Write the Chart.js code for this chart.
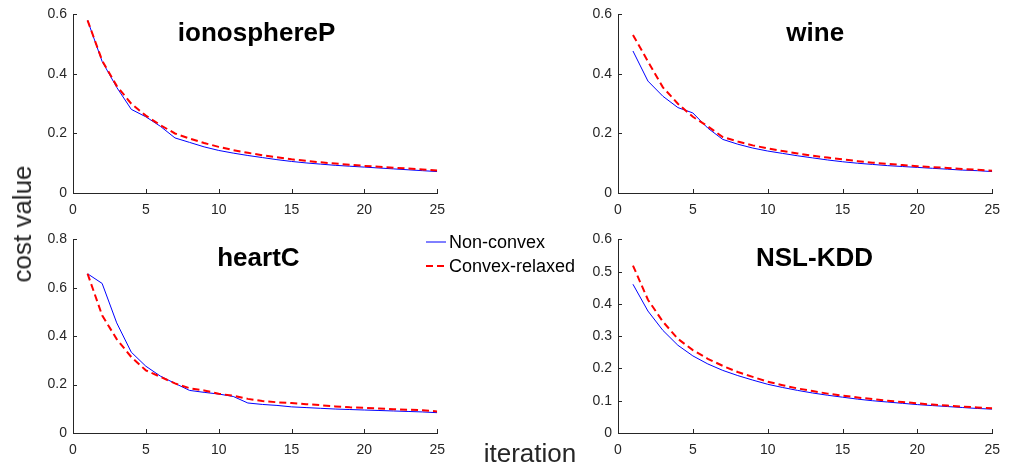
<!DOCTYPE html>
<html>
<head>
<meta charset="utf-8">
<script src="https://cdn.jsdelivr.net/npm/chart.js@4.4.1/dist/chart.umd.min.js"></script>
<style>
  body { margin: 0; background: #fff; width: 1010px; height: 468px; position: relative; overflow: hidden; font-family: "Liberation Sans", Arial, sans-serif; }
  .panel { position: absolute; }
  .etiqueta { position: absolute; font-size: 26px; color: #262626; white-space: nowrap; line-height: 1; }
  #leyenda { position: absolute; left: 426px; top: 230px; font-size: 18px; color: #000; }
  .fila { height: 24px; display: flex; align-items: center; }
  .fila svg { margin-right: 3px; }
</style>
</head>
<body>
<div class="panel" style="left:23px;top:0;width:431px;height:223px"><canvas id="panelIono"></canvas></div>
<div class="panel" style="left:568px;top:0;width:441px;height:223px"><canvas id="panelWine"></canvas></div>
<div class="panel" style="left:23px;top:225px;width:431px;height:238px"><canvas id="panelHeart"></canvas></div>
<div class="panel" style="left:568px;top:225px;width:441px;height:238px"><canvas id="panelNsl"></canvas></div>

<div class="etiqueta" style="left:22px;top:224px;transform:translate(-50%,-50%) rotate(-90deg)">cost value</div>
<div class="etiqueta" style="left:530px;top:440px;transform:translateX(-50%)">iteration</div>

<div id="leyenda">
  <div class="fila"><svg width="20" height="4"><line x1="0" y1="2" x2="20" y2="2" stroke="#0000ff" stroke-width="1"/></svg>Non-convex</div>
  <div class="fila"><svg width="20" height="4"><line x1="0" y1="2" x2="20" y2="2" stroke="#ff0000" stroke-width="2" stroke-dasharray="7,4"/></svg>Convex-relaxed</div>
</div>

<script>
const iteraciones = [1, 2, 3, 4, 5, 6, 7, 8, 9, 10, 11, 12, 13, 14, 15, 16, 17, 18, 19, 20, 21, 22, 23, 24, 25];

// ionosphereP
const ionoNoConvexo = [0.580, 0.442, 0.355, 0.281, 0.256, 0.224, 0.185, 0.170, 0.155, 0.143, 0.134, 0.126, 0.119, 0.112, 0.106, 0.101, 0.097, 0.093, 0.090, 0.087, 0.084, 0.081, 0.078, 0.075, 0.072];
const ionoConvexo   = [0.580, 0.445, 0.360, 0.300, 0.260, 0.228, 0.200, 0.183, 0.168, 0.155, 0.144, 0.135, 0.127, 0.120, 0.113, 0.108, 0.103, 0.099, 0.095, 0.091, 0.088, 0.085, 0.082, 0.079, 0.076];

// wine
const wineNoConvexo = [0.477, 0.376, 0.325, 0.287, 0.269, 0.218, 0.180, 0.164, 0.151, 0.141, 0.133, 0.125, 0.118, 0.111, 0.105, 0.100, 0.096, 0.092, 0.089, 0.086, 0.083, 0.080, 0.077, 0.075, 0.072];
const wineConvexo   = [0.531, 0.442, 0.355, 0.300, 0.256, 0.224, 0.188, 0.173, 0.160, 0.150, 0.141, 0.133, 0.125, 0.119, 0.113, 0.107, 0.102, 0.098, 0.094, 0.090, 0.087, 0.084, 0.081, 0.078, 0.075];

// heartC
const heartNoConvexo = [0.658, 0.618, 0.455, 0.334, 0.276, 0.235, 0.205, 0.176, 0.168, 0.161, 0.151, 0.124, 0.118, 0.114, 0.108, 0.105, 0.102, 0.099, 0.097, 0.095, 0.093, 0.091, 0.089, 0.087, 0.084];
const heartConvexo   = [0.658, 0.486, 0.388, 0.314, 0.259, 0.232, 0.205, 0.185, 0.176, 0.162, 0.154, 0.141, 0.132, 0.127, 0.124, 0.119, 0.115, 0.110, 0.106, 0.104, 0.101, 0.098, 0.096, 0.094, 0.089];

// NSL-KDD
const nslNoConvexo = [0.461, 0.378, 0.318, 0.272, 0.239, 0.214, 0.194, 0.178, 0.164, 0.151, 0.141, 0.132, 0.124, 0.117, 0.111, 0.105, 0.100, 0.096, 0.092, 0.088, 0.085, 0.082, 0.079, 0.076, 0.074];
const nslConvexo   = [0.519, 0.413, 0.345, 0.292, 0.257, 0.230, 0.208, 0.189, 0.174, 0.159, 0.148, 0.138, 0.130, 0.122, 0.116, 0.110, 0.105, 0.100, 0.096, 0.092, 0.088, 0.085, 0.082, 0.079, 0.077];

const COLOR_EJE = '#262626';
const FUENTE = '"Liberation Sans", Arial, sans-serif';

// Titulo dentro del area y marcas de eje hacia adentro (estilo MATLAB)
const pluginTitulo = {
  id: 'tituloInterno',
  afterDraw(chart, args, opts) {
    const { ctx, chartArea } = chart;
    const xs = chart.scales.x;
    const ys = chart.scales.y;
    ctx.save();
    ctx.strokeStyle = COLOR_EJE;
    ctx.lineWidth = 1;
    ctx.beginPath();
    xs.ticks.forEach(t => {
      const px = Math.round(xs.getPixelForValue(t.value)) + 0.5;
      ctx.moveTo(px, chartArea.bottom);
      ctx.lineTo(px, chartArea.bottom - 4);
    });
    ys.ticks.forEach(t => {
      const py = Math.round(ys.getPixelForValue(t.value)) + 0.5;
      ctx.moveTo(chartArea.left, py);
      ctx.lineTo(chartArea.left + 4, py);
    });
    ctx.stroke();

    ctx.font = 'bold 26px ' + FUENTE;
    ctx.fillStyle = '#000';
    ctx.textAlign = 'center';
    ctx.textBaseline = 'alphabetic';
    const cx = chartArea.left + opts.x * (chartArea.right - chartArea.left);
    ctx.fillText(opts.texto, cx, chartArea.top + 27);
    ctx.restore();
  }
};

function crearPanel(id, titulo, posTitulo, noConvexo, convexo, yMax, yPaso) {
  const ctx = document.getElementById(id).getContext('2d');
  return new Chart(ctx, {
    type: 'line',
    data: {
      datasets: [
        {
          label: 'Convex-relaxed',
          data: iteraciones.map((it, i) => ({ x: it, y: convexo[i] })),
          borderColor: '#ff0000',
          borderWidth: 2,
          borderDash: [7, 4],
          pointRadius: 0,
          tension: 0,
          order: 0
        },
        {
          label: 'Non-convex',
          data: iteraciones.map((it, i) => ({ x: it, y: noConvexo[i] })),
          borderColor: '#0000ff',
          borderWidth: 1,
          pointRadius: 0,
          tension: 0,
          order: 1
        }
      ]
    },
    options: {
      responsive: true,
      maintainAspectRatio: false,
      animation: false,
      layout: { padding: { top: 10, right: 6, left: 0, bottom: 0 } },
      scales: {
        x: {
          type: 'linear',
          min: 0,
          max: 25,
          afterFit: s => { s.height = 30; },
          grid: { display: false, drawTicks: false },
          border: { display: true, color: COLOR_EJE, width: 1 },
          ticks: { stepSize: 5, color: COLOR_EJE, padding: 9, font: { family: FUENTE, size: 14 } }
        },
        y: {
          min: 0,
          max: yMax,
          afterFit: s => { s.width = 50; },
          grid: { display: false, drawTicks: false },
          border: { display: true, color: COLOR_EJE, width: 1 },
          ticks: { stepSize: yPaso, color: COLOR_EJE, padding: 6, font: { family: FUENTE, size: 14 } }
        }
      },
      plugins: {
        legend: { display: false },
        tooltip: { enabled: false },
        tituloInterno: { texto: titulo, x: posTitulo }
      }
    },
    plugins: [pluginTitulo]
  });
}

crearPanel('panelIono', 'ionosphereP', 0.504, ionoNoConvexo, ionoConvexo, 0.6, 0.2);
crearPanel('panelWine', 'wine', 0.527, wineNoConvexo, wineConvexo, 0.6, 0.2);
crearPanel('panelHeart', 'heartC', 0.509, heartNoConvexo, heartConvexo, 0.8, 0.2);
crearPanel('panelNsl', 'NSL-KDD', 0.525, nslNoConvexo, nslConvexo, 0.6, 0.1);
</script>
</body>
</html>
